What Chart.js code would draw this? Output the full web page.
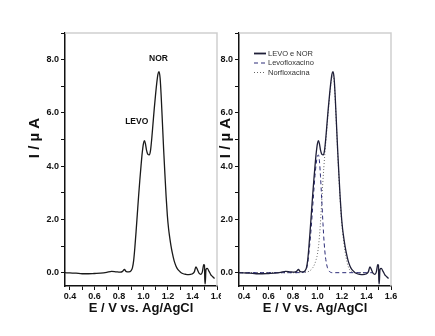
<!DOCTYPE html>
<html>
<head>
<meta charset="utf-8">
<script src="https://cdn.jsdelivr.net/npm/chart.js@4.4.1/dist/chart.umd.min.js"></script>
<style>
  html, body { margin: 0; padding: 0; background: #fff; }
  body { width: 435px; height: 336px; position: relative; overflow: hidden; }
  .panel { position: absolute; top: 0; height: 336px; overflow: hidden; }
  #leftPanel { left: 0; width: 221px; }
  #rightPanel { left: 219px; width: 216px; }
  canvas { display: block; }
</style>
</head>
<body>
<div class="panel" id="leftPanel"><canvas id="chartMix" width="221" height="336"></canvas></div>
<div class="panel" id="rightPanel"><canvas id="chartParts" width="216" height="336"></canvas></div>
<script>
// Differential pulse voltammograms: levofloxacin + norfloxacin mixture and the single drugs.

// LEVO e NOR (mixture)
const mixE = [0.36,0.40,0.45,0.50,0.55,0.60,0.65,0.70,0.74,0.78,0.81,0.83,0.845,0.86,0.88,0.90,
  0.91,0.92,0.93,0.94,0.95,0.96,0.97,0.98,0.99,1.00,1.008,1.016,1.025,1.035,1.048,1.058,1.068,
  1.078,1.088,1.098,1.108,1.118,1.127,1.136,1.145,1.155,1.165,1.175,1.185,1.195,1.205,1.215,
  1.225,1.235,1.25,1.265,1.28,1.30,1.32,1.345,1.37,1.395,1.415,1.428,1.44,1.455,1.468,1.48,
  1.492,1.498,1.501,1.504,1.51,1.52,1.535,1.55,1.565,1.58];
const mixI = [0.00,-0.01,-0.02,-0.04,-0.04,-0.03,-0.02,0.01,0.05,0.03,0.02,0.05,0.12,0.04,0.03,0.08,
  0.18,0.45,0.95,1.55,2.2,2.85,3.45,4.0,4.5,4.85,4.96,4.85,4.6,4.45,4.42,4.6,5.05,
  5.6,6.15,6.65,7.1,7.45,7.55,7.3,6.6,5.6,4.6,3.7,2.85,2.15,1.65,1.3,
  1.0,0.75,0.45,0.25,0.12,0.03,-0.03,-0.06,-0.07,-0.05,0.03,0.22,0.12,-0.03,-0.06,0.02,
  0.3,0.28,-0.42,-0.42,0.12,0.16,0.05,-0.08,-0.15,-0.22];

// Levofloxacino alone
const levoE = [0.36,0.50,0.60,0.70,0.80,0.88,0.905,0.92,0.935,0.95,0.96,0.97,0.98,0.99,1.0,1.008,
  1.016,1.025,1.035,1.045,1.055,1.065,1.078,1.09,1.105,1.125,1.2,1.3,1.4,1.45];
const levoI = [0,0,0,0,0,0.01,0.08,0.35,0.95,1.75,2.4,3.05,3.65,4.1,4.38,4.42,
  4.2,3.6,2.75,1.85,1.1,0.6,0.25,0.09,0.02,0,0,0,0,0];

// Norfloxacina alone
const norE = [0.36,0.50,0.60,0.70,0.80,0.90,0.93,0.95,0.97,0.99,1.0,1.01,1.022,1.032,1.042,1.052,
  1.062,1.072,1.082,1.092,1.102,1.112,1.12,1.127,1.136,1.145,1.155,1.165,1.175,1.185,1.195,
  1.205,1.215,1.225,1.24,1.255,1.27,1.29,1.32,1.40];
const norI = [0,0,0,0,0,0.01,0.05,0.12,0.25,0.5,0.7,1.05,1.7,2.45,3.25,3.95,
  4.55,5.1,5.7,6.25,6.75,7.15,7.35,7.42,7.2,6.5,5.5,4.5,3.6,2.75,2.05,
  1.55,1.15,0.8,0.42,0.18,0.06,0.01,0,0];

// Axis ranges and ticks
const eRange = [0.36, 1.6];
const iRange = [-0.5, 9.0];
const eMajorTicks = [0.4,0.6,0.8,1.0,1.2,1.4,1.6];
const eMinorTicks = [0.5,0.7,0.9,1.1,1.3,1.5];
const iMajorTicks = [0,2,4,6,8];
const iMinorTicks = [1,3,5,7,9];

// Peak labels on the mixture curve
const peakNames = ['LEVO','NOR'];
const peakLabelE = [0.945, 1.123];
const peakLabelI = [5.66, 8.03];

const FONT = "Arial, 'Liberation Sans', Helvetica, sans-serif";
const INK = '#111';

const toPoints = (xs, ys) => xs.map((x, i) => ({ x: x, y: ys[i] }));
const isMajor = (list, v) => list.some(m => Math.abs(m - v) < 1e-6);
const tickList = (a, b) => a.concat(b).sort((p, q) => p - q).map(v => ({ value: v }));

// light grey box edges on top and right of the plot
const frame = {
  id: 'frame',
  afterDraw(chart) {
    const { ctx, chartArea: a } = chart;
    ctx.save();
    ctx.strokeStyle = '#cfcfcf';
    ctx.lineWidth = 1.5;
    ctx.beginPath();
    ctx.moveTo(a.left, a.top);
    ctx.lineTo(a.right, a.top);
    ctx.lineTo(a.right, a.bottom);
    ctx.stroke();
    ctx.restore();
  }
};

function yTitle(x, y) {
  return {
    id: 'yTitle',
    afterDraw(chart) {
      const ctx = chart.ctx;
      ctx.save();
      ctx.translate(x, y);
      ctx.rotate(-Math.PI / 2);
      ctx.font = `bold 15px ${FONT}`;
      ctx.fillStyle = INK;
      ctx.textAlign = 'center';
      ctx.textBaseline = 'middle';
      ctx.fillText('I / \u00b5 A', 0, 0);
      ctx.restore();
    }
  };
}

const peakLabels = {
  id: 'peakLabels',
  afterDatasetsDraw(chart) {
    const { ctx, scales } = chart;
    ctx.save();
    ctx.font = `bold 8.5px ${FONT}`;
    ctx.fillStyle = INK;
    ctx.textAlign = 'center';
    ctx.textBaseline = 'middle';
    peakNames.forEach((name, i) => {
      ctx.fillText(name, scales.x.getPixelForValue(peakLabelE[i]), scales.y.getPixelForValue(peakLabelI[i]));
    });
    ctx.restore();
  }
};

const seriesLegend = {
  id: 'seriesLegend',
  afterDraw(chart) {
    const { ctx, chartArea: a } = chart;
    ctx.save();
    ctx.font = `7.5px ${FONT}`;
    ctx.textBaseline = 'middle';
    chart.data.datasets.forEach((ds, i) => {
      const y = a.top + 20.5 + i * 9.5;
      const x0 = a.left + 15;
      ctx.strokeStyle = ds.borderColor;
      ctx.lineWidth = i === 0 ? 1.8 : 1;
      ctx.setLineDash(ds.borderDash || []);
      ctx.beginPath();
      ctx.moveTo(x0, y);
      ctx.lineTo(x0 + 12, y);
      ctx.stroke();
      ctx.setLineDash([]);
      ctx.fillStyle = '#333';
      ctx.fillText(ds.label, x0 + 14, y);
    });
    ctx.restore();
  }
};

function makePanel(id, axisWidth, padRight, datasets, extraPlugins) {
  return new Chart(document.getElementById(id), {
    type: 'line',
    data: { datasets: datasets },
    options: {
      responsive: false,
      animation: false,
      devicePixelRatio: 1,
      layout: { padding: { top: 33, right: padRight, left: 0, bottom: 0 } },
      elements: { point: { radius: 0 }, line: { cubicInterpolationMode: 'monotone' } },
      plugins: { legend: { display: false }, tooltip: { enabled: false } },
      scales: {
        x: {
          type: 'linear',
          min: eRange[0], max: eRange[1],
          afterBuildTicks: s => { s.ticks = tickList(eMajorTicks, eMinorTicks); },
          afterFit: s => { s.height = 50; s.paddingLeft = 0; s.paddingRight = 0; },
          ticks: {
            autoSkip: false, maxRotation: 0, padding: 1, color: INK,
            font: { family: FONT, size: 9, weight: 'bold' },
            callback: v => isMajor(eMajorTicks, v) ? v.toFixed(1) : ''
          },
          grid: { drawOnChartArea: false, tickLength: 4, color: INK, tickWidth: 1 },
          border: { color: INK, width: 1.5 },
          title: {
            display: true, text: 'E / V vs. Ag/AgCl', color: INK,
            font: { family: FONT, size: 13, weight: 'bold' },
            padding: { top: 0, bottom: 20 }
          }
        },
        y: {
          type: 'linear',
          min: iRange[0], max: iRange[1],
          afterBuildTicks: s => { s.ticks = tickList(iMajorTicks, iMinorTicks); },
          afterFit: s => { s.width = axisWidth; s.paddingTop = 0; s.paddingBottom = 0; },
          ticks: {
            autoSkip: false, padding: 2, color: INK,
            font: { family: FONT, size: 9, weight: 'bold' },
            callback: v => isMajor(iMajorTicks, v) ? v.toFixed(1) : ''
          },
          grid: { drawOnChartArea: false, tickLength: 4, color: INK, tickWidth: 1 },
          border: { color: INK, width: 1.5 }
        }
      }
    },
    plugins: [frame].concat(extraPlugins)
  });
}

makePanel('chartMix', 65, 4, [
  { label: 'LEVO e NOR', data: toPoints(mixE, mixI), borderColor: '#1a1a1a', borderWidth: 1.3 }
], [yTitle(35, 138), peakLabels]);

makePanel('chartParts', 20, 44, [
  { label: 'LEVO e NOR', data: toPoints(mixE, mixI), borderColor: '#1f1f38', borderWidth: 1.3 },
  { label: 'Levofloxacino', data: toPoints(levoE, levoI), borderColor: '#2c2c78', borderWidth: 1, borderDash: [4, 3] },
  { label: 'Norfloxacina', data: toPoints(norE, norI), borderColor: '#666', borderWidth: 1, borderDash: [1, 2] }
], [yTitle(7, 138), seriesLegend]);
</script>
</body>
</html>
